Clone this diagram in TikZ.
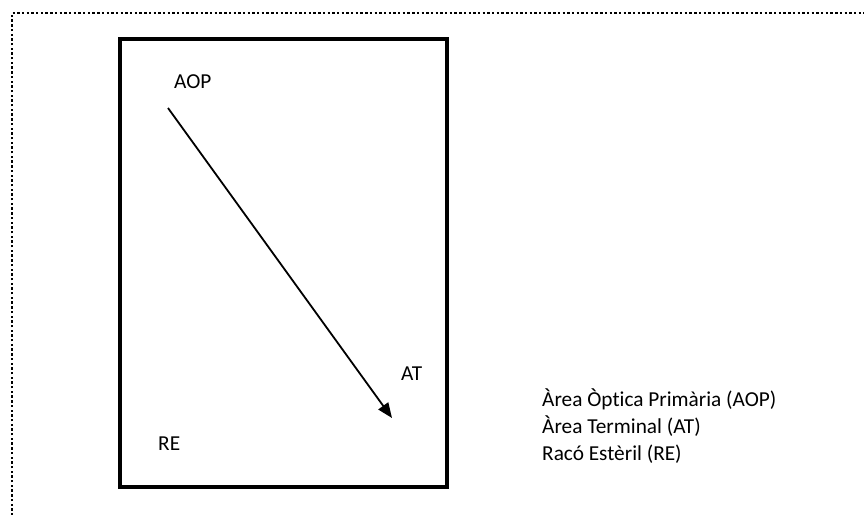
\documentclass[tikz,border=0pt]{standalone}
\usepackage{fontspec}
\setmainfont{Carlito}[RawFeature=-liga]
\usetikzlibrary{arrows.meta}
\begin{document}
\begin{tikzpicture}[x=1pt,y=-1pt,
  lbl/.style={inner sep=0pt,anchor=base west,font=\fontsize{21.3}{25}\selectfont},
  frame/.style={line width=4pt},
  border/.style={line width=2.5pt,dash pattern=on 2.4pt off 2.3pt}]
\useasboundingbox (0,0) rectangle (864,514);
\draw[border] (12,520) -- (12,13) -- (870,13);
\draw[frame] (120,39) rectangle (447,487);
\node[lbl] (aop) at (174,88.5) {AOP};
\node[lbl] (at) at (401,380) {AT};
\node[lbl] (re) at (158,450) {RE};
\coordinate (s) at (168,108);
\coordinate (e) at (392,418);
\draw[line width=1.8pt,-{Triangle[length=15pt,width=12pt]}] (s) -- (e);
\node[lbl] (l1) at (542,406.5) {Àrea Òptica Primària (AOP)};
\node[lbl] (l2) at (542,433.5) {Àrea Terminal (AT)};
\node[lbl] (l3) at (542,460.5) {Racó Estèril (RE)};
\end{tikzpicture}
\end{document}
